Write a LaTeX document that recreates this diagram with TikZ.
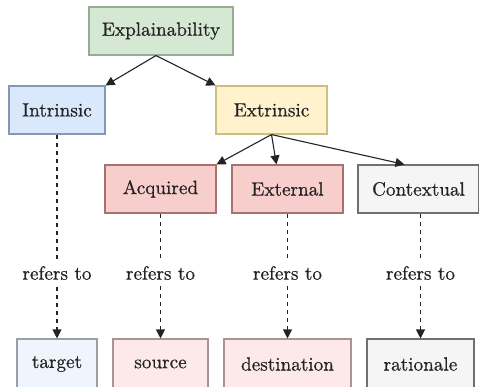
\documentclass[tikz,border=0pt]{standalone}
\usepackage{fontspec}
\setmainfont{lmroman10-regular.otf}[FakeBold=0.6]
\usetikzlibrary{arrows.meta,calc}

% box colours
\definecolor{greenfill}{HTML}{D5E8D4}\definecolor{greenline}{HTML}{94AE8F}
\definecolor{bluefill}{HTML}{DAE8FC}\definecolor{blueline}{HTML}{8298B4}
\definecolor{yellowfill}{HTML}{FFF2CC}\definecolor{yellowline}{HTML}{D2BE7C}
\definecolor{redfill}{HTML}{F8CECC}\definecolor{redline}{HTML}{A8716E}
\definecolor{greyfill}{HTML}{F5F5F5}\definecolor{greyline}{HTML}{707070}
\definecolor{paleblue}{HTML}{EEF5FD}\definecolor{palered}{HTML}{FDE9E9}
\definecolor{palebline}{HTML}{9A9FA6}\definecolor{palerline}{HTML}{A99393}
\definecolor{ink}{HTML}{232323}

\tikzset{
  box/.style={rectangle, draw, line width=1.1pt, minimum height=48pt,
    inner sep=0pt, text=ink, font=\fontsize{19.2}{23}\selectfont},
  tag/.style={fill=white, inner xsep=2pt, inner ysep=6pt, text=ink,
    font=\fontsize{19.2}{23}\selectfont},
  link/.style={draw=ink, line width=1.1pt, -{Triangle[length=9pt,width=9pt]}},
  reflink/.style={link, dash pattern=on 4pt off 4pt},
}

\begin{document}
\begin{tikzpicture}[x=1pt, y=-1pt]
\useasboundingbox (0,0) rectangle (479,386);
\clip (0,0) rectangle (479,386);

% hierarchy
\node[box, fill=greenfill, draw=greenline, minimum width=144pt] (expl) at (161,31) {Explainability};
\node[box, fill=bluefill, draw=blueline, minimum width=96pt] (intr) at (57,110) {Intrinsic};
\node[box, fill=yellowfill, draw=yellowline, minimum width=111pt] (extr) at (271.5,110) {Extrinsic};
\node[box, fill=redfill, draw=redline, minimum width=111pt] (acq) at (160.5,189) {Acquired};
\node[box, fill=redfill, draw=redline, minimum width=111pt] (ext) at (287.5,189) {External};
\node[box, fill=greyfill, draw=greyline, minimum width=121pt] (ctx) at (418.5,189) {Contextual};

% referents (cut by the lower edge)
\node[box, fill=paleblue, draw=palebline, minimum width=80pt, minimum height=50pt] (tgt) at (57,364) {target};
\node[box, fill=palered, draw=palerline, minimum width=95pt, minimum height=50pt] (src) at (160.5,364) {source};
\node[box, fill=palered, draw=palerline, minimum width=127pt, minimum height=50pt] (dst) at (287.5,364) {destination};
\node[box, fill=greyfill, draw=greyline, minimum width=107pt, minimum height=50pt] (rat) at (420.5,364) {rationale};

% solid arrows
\coordinate (eo) at ($(expl.south)+(-5,0)$);
\draw[link] (eo) -- (intr.north east);
\draw[link] (eo) -- (extr.north west);
\draw[link] (extr.south) -- (acq.north east);
\draw[link] (extr.south) -- ($(ext.north west)+(45,0)$);
\draw[link] (extr.south) -- ($(ctx.north west)+(47,0)$);

% dashed "refers to" arrows
\draw[reflink] (intr.south) -- (tgt.north);
\draw[reflink] (acq.south) -- (src.north);
\draw[reflink] (ext.south) -- (dst.north);
\draw[reflink] (ctx.south -| rat.north) -- (rat.north);

\node[tag] (r1) at (57,273) {refers to};
\node[tag] (r2) at (160.5,273) {refers to};
\node[tag] (r3) at (287.5,273) {refers to};
\node[tag] (r4) at (420.5,273) {refers to};
\end{tikzpicture}
\end{document}
